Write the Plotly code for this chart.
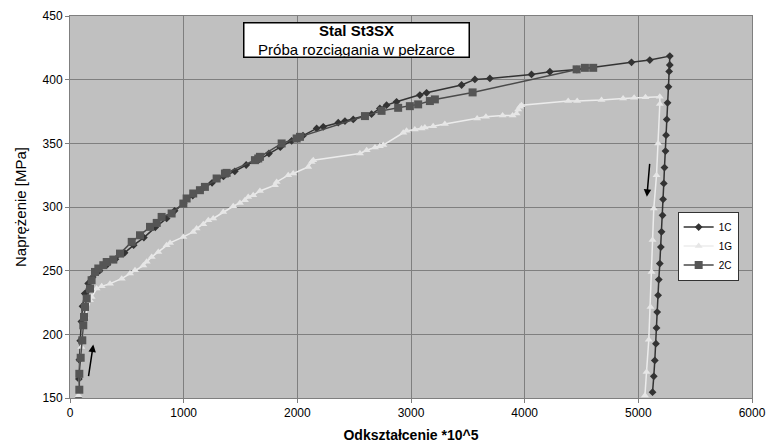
import plotly.graph_objects as go

# ---- data ----
c1_x = [75, 78, 82, 90, 100, 110, 130, 160, 200, 260, 330, 400, 480, 560, 650, 750, 850, 920,
        1000, 1080, 1160, 1250, 1350, 1450, 1550, 1660, 1750, 1850, 1950, 2050, 2170, 2228, 2360,
        2419, 2492, 2653, 2726, 2785, 2873, 3078, 3137, 3445, 3562, 3694, 4060, 4222, 4460, 4940,
        5101, 5277,
        5277, 5271, 5265, 5257, 5250, 5244, 5239, 5230, 5224, 5218, 5213, 5204, 5198, 5189, 5180,
        5174, 5166, 5160, 5155, 5145, 5136, 5125]
c1_y = [150, 165, 180, 195, 210, 222, 232, 240, 245, 250, 255, 259, 264, 270, 276, 284, 291, 297,
        303, 309, 314, 319, 324, 328, 333, 337, 342, 347, 352, 356, 361.7, 363, 366.2,
        367.5, 368.8, 373, 377.4, 380, 382.6, 387.9, 389.7, 395.8, 400.2, 401, 404.1, 406.2, 408, 413.6,
        415.4, 418.5,
        411.5, 406.5, 394.4, 381.8, 368.8, 356.4, 343.9, 331, 318.5, 306, 293.5, 280.5, 268.5, 255.6, 243,
        230.6, 217.5, 205, 192.7, 179.5, 167, 154.6]

g1_x = [75, 100, 130, 176, 190, 234, 279, 352, 455, 528, 572, 645, 675, 719, 777, 850, 880, 997,
        1084, 1114, 1173, 1217, 1260, 1348, 1436, 1495, 1539, 1568, 1612, 1671, 1803, 1818, 1920,
        1964, 2096, 2126, 2140, 2551, 2610, 2683, 2726, 2756, 2932, 2961, 3034, 3093, 3122, 3195,
        3298, 3582, 3659, 3806, 3894, 3929, 3943, 3958, 3972, 4383, 4462, 4676, 4866, 4963, 5063,
        5189, 5189, 5174, 5160, 5136, 5125, 5116, 5107, 5092, 5072, 5058]
g1_y = [152, 190, 214, 226.7, 229.3, 235.9, 237.7, 239.8, 243.7, 247.7, 250.3, 254, 257, 260.8,
        264.7, 270, 271.8, 276.5, 280.4, 283.1, 286.5, 289.6, 291, 296.1, 300.6, 303.2, 305.3, 307.9,
        309.2, 312.6, 317.1, 319.7, 325, 326.3, 331.5, 335.4, 336.8, 342, 344.6, 346.8, 347.8, 348.6,
        358.3, 359.8, 360.9, 361.7, 362.5, 363.5, 365.1, 369.6, 370.8, 371.9, 371.9, 373.5, 376.6,
        378.7, 380, 383.2, 383.2, 384, 385.3, 385.8, 386.1, 386.6, 380.8, 349.9, 324.9, 298.8, 274,
        249, 221.5, 195.8, 170.4, 152]

c2_x = [82, 82, 94, 108, 117, 123, 132, 147, 176, 190, 220, 249, 293, 323, 381, 440, 543, 616, 704,
        763, 806, 894, 997, 1026, 1084, 1143, 1187, 1290, 1363, 1378, 1627, 1656, 1671, 1862, 1994,
        2023, 2595, 2741, 2887, 2990, 3063, 3166, 3210, 3542, 4457, 4530, 4603]
c2_y = [156.5, 169, 181.6, 195.3, 207.1, 213.6, 221.5, 228.1, 235.9, 242.5, 249, 251.7, 254.3,
        256.8, 258.7, 263.4, 272.6, 277.8, 284.4, 287.5, 292.2, 294.9, 302.7, 306.7, 310.6, 313.2,
        315.8, 322.4, 326.3, 326.8, 336.8, 338.1, 339.4, 349.9, 353.8, 355.1, 371.4, 375.5, 377.9,
        379.2, 380.6, 383.2, 384.5, 390, 408.1, 409.3, 409.3]

x_ticks = [0, 1000, 2000, 3000, 4000, 5000, 6000]
y_ticks = [150, 200, 250, 300, 350, 400, 450]

FONT = "Liberation Sans, Arial, sans-serif"

fig = go.Figure()
fig.add_trace(go.Scatter(
    x=c1_x, y=c1_y, name="1C", mode="lines+markers",
    line=dict(color="#333333", width=1.5),
    marker=dict(symbol="diamond", size=6, color="#333333")))
fig.add_trace(go.Scatter(
    x=g1_x, y=g1_y, name="1G", mode="lines+markers",
    line=dict(color="#ececec", width=1.5),
    marker=dict(symbol="triangle-up", size=7, color="#e6e6e6")))
fig.add_trace(go.Scatter(
    x=c2_x, y=c2_y, name="2C", mode="lines+markers",
    line=dict(color="#4a4a4a", width=1.5),
    marker=dict(symbol="square", size=8, color="#555555")))

# title box
fig.add_annotation(
    xref="paper", yref="paper", x=0.2537, y=0.890, xanchor="left", yanchor="bottom",
    text="<b>Stal St3SX</b><br>Próba rozciągania w pełzarce",
    showarrow=False, align="center", width=224, height=33,
    bgcolor="white", bordercolor="black", borderwidth=1.5, borderpad=0,
    font=dict(family=FONT, size=15, color="black"))

# arrows
fig.add_annotation(x=205, y=192, ax=161, ay=166, xref="x", yref="y", axref="x", ayref="y",
                   text="", showarrow=True, arrowhead=2, arrowsize=1, arrowwidth=1.5,
                   arrowcolor="black")
fig.add_annotation(x=5075, y=308, ax=5101, ay=335, xref="x", yref="y", axref="x", ayref="y",
                   text="", showarrow=True, arrowhead=2, arrowsize=1, arrowwidth=1.5,
                   arrowcolor="black")

fig.update_layout(
    width=766, height=444,
    margin=dict(l=70, r=14, t=16, b=46, autoexpand=False),
    paper_bgcolor="white", plot_bgcolor="#c0c0c0",
    font=dict(family=FONT, size=12, color="black"),
    showlegend=True,
    legend=dict(x=0.891, y=0.488, xanchor="left", yanchor="top",
                bgcolor="white", bordercolor="#333333", borderwidth=1,
                font=dict(family=FONT, size=10), tracegroupgap=0,
                itemwidth=30),
)
fig.update_xaxes(
    range=[0, 6000], tickvals=x_ticks, ticktext=[str(v) for v in x_ticks],
    showgrid=True, gridcolor="#7f7f7f", gridwidth=1, automargin=False,
    showline=True, linecolor="#7f7f7f", mirror=True, linewidth=1,
    ticks="outside", ticklen=4, tickcolor="#7f7f7f", zeroline=False,
    title=dict(text="<b>Odkształcenie *10^5</b>", font=dict(family=FONT, size=14), standoff=10),
    tickfont=dict(family=FONT, size=12))
fig.update_yaxes(
    range=[150, 450], tickvals=y_ticks, ticktext=[str(v) for v in y_ticks],
    showgrid=True, gridcolor="#7f7f7f", gridwidth=1, automargin=False,
    showline=True, linecolor="#7f7f7f", mirror=True, linewidth=1,
    ticks="outside", ticklen=4, tickcolor="#7f7f7f", zeroline=False,
    title=dict(text="Naprężenie [MPa]", font=dict(family=FONT, size=15), standoff=12),
    tickfont=dict(family=FONT, size=12))

fig.write_html("out.html")
